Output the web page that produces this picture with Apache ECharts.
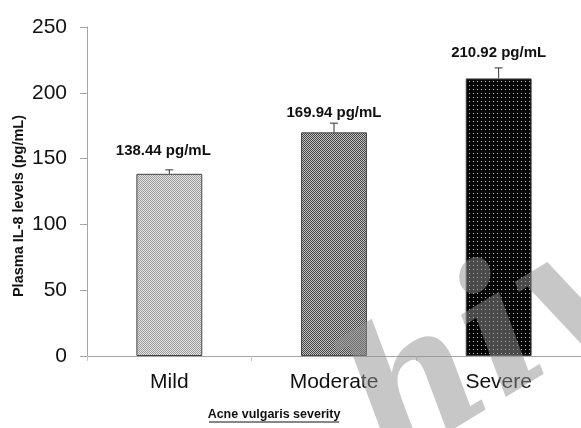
<!DOCTYPE html>
<html>
<head>
<meta charset="utf-8">
<script src="https://cdn.jsdelivr.net/npm/echarts@6/dist/echarts.min.js"></script>
<style>
    html, body { margin: 0; padding: 0; background: #fff; }
    #chart { width: 581px; height: 428px; }
</style>
</head>
<body>
<div id="chart"></div>
<script>
    // data
    const categories = ['Mild', 'Moderate', 'Severe'];
    const il8Means = [138.44, 169.94, 210.92];
    const il8Errors = [3, 7, 8];
    const yTicks = [0, 50, 100, 150, 200, 250];

    // small bitmap fills to mimic the hatch patterns of the original
    function makePattern(size, bg, fg, dots) {
        const c = document.createElement('canvas');
        c.width = size;
        c.height = size;
        const ctx = c.getContext('2d');
        ctx.fillStyle = bg;
        ctx.fillRect(0, 0, size, size);
        ctx.fillStyle = fg;
        dots.forEach(function (d) {
            ctx.fillRect(d[0], d[1], 1, 1);
        });
        return { image: c, repeat: 'repeat' };
    }

    const fills = [
        makePattern(2, '#e6e6e6', '#9a9a9a', [[0, 0], [1, 1]]),
        makePattern(2, '#bdbdbd', '#4a4a4a', [[0, 0], [1, 1]]),
        makePattern(4, '#050505', '#c8c8c8', [[1, 1]])
    ];
    // distance of each value label above its bar
    const labelGaps = [15, 12, 18];
    const labelShift = [-6, 0, 0];

    // watermark: only the tail of the word shows inside the picture
    const wmFont = 'italic bold 180px "DejaVu Serif", serif';
    const wmAngle = 0.55;
    const wmCtx = document.createElement('canvas').getContext('2d');
    wmCtx.font = wmFont;
    const wmSkip = wmCtx.measureText('Arc').width;

    const myChart = echarts.init(document.getElementById('chart'));
    myChart.setOption({
        animation: false,
        textStyle: { fontFamily: 'Liberation Sans, Arial, sans-serif' },
        grid: { left: 87, right: 0, top: 27, bottom: 72 },
        xAxis: {
            type: 'category',
            data: categories,
            axisLine: { lineStyle: { color: '#a6a6a6', width: 1 } },
            axisTick: { show: true, length: 5, lineStyle: { color: '#c8c8c8' } },
            axisLabel: { fontSize: 21, color: '#111', margin: 16 }
        },
        yAxis: {
            type: 'value',
            min: yTicks[0],
            max: yTicks[yTicks.length - 1],
            interval: yTicks[1] - yTicks[0],
            splitLine: { show: false },
            axisLine: { show: true, lineStyle: { color: '#a6a6a6', width: 1 } },
            axisTick: { show: true, length: 7, lineStyle: { color: '#a6a6a6' } },
            axisLabel: { fontSize: 21, color: '#111', margin: 20 }
        },
        series: [
            {
                type: 'bar',
                barWidth: '40%',
                data: il8Means.map(function (v, i) {
                    return {
                        value: v,
                        itemStyle: { color: fills[i], borderColor: '#444', borderWidth: 1 },
                        label: { distance: labelGaps[i], offset: [labelShift[i], 0] }
                    };
                }),
                label: {
                    show: true,
                    position: 'top',
                    fontSize: 15,
                    fontWeight: 'bold',
                    color: '#111',
                    formatter: function (p) { return p.value.toFixed(2) + ' pg/mL'; }
                },
                z: 2
            },
            {
                // upper error whiskers
                type: 'custom',
                data: il8Means.map(function (v, i) { return [i, v, v + il8Errors[i]]; }),
                renderItem: function (params, api) {
                    const lo = api.coord([api.value(0), api.value(1)]);
                    const hi = api.coord([api.value(0), api.value(2)]);
                    const half = 4;
                    const st = { stroke: '#333', lineWidth: 1 };
                    return {
                        type: 'group',
                        children: [
                            { type: 'line', shape: { x1: lo[0], y1: lo[1], x2: hi[0], y2: hi[1] }, style: st },
                            { type: 'line', shape: { x1: hi[0] - half, y1: hi[1], x2: hi[0] + half, y2: hi[1] }, style: st }
                        ]
                    };
                },
                z: 3
            }
        ],
        graphic: [
            {
                type: 'text',
                x: 19,
                y: 206,
                rotation: Math.PI / 2,
                style: {
                    text: 'Plasma IL-8 levels (pg/mL)',
                    font: 'bold 14.5px "Liberation Sans", Arial, sans-serif',
                    fill: '#111',
                    align: 'center',
                    verticalAlign: 'middle'
                }
            },
            {
                type: 'text',
                x: 274,
                y: 415,
                style: {
                    text: 'Acne vulgaris severity',
                    font: 'bold 12.5px "Liberation Sans", Arial, sans-serif',
                    fill: '#111',
                    align: 'center',
                    verticalAlign: 'middle'
                }
            },
            {
                type: 'line',
                shape: { x1: 209, y1: 422, x2: 339, y2: 422 },
                style: { stroke: '#111', lineWidth: 1 }
            },
            {
                // faint watermark lying over the plot
                type: 'text',
                x: 24 + wmSkip * Math.cos(wmAngle),
                y: 532 - wmSkip * Math.sin(wmAngle),
                rotation: wmAngle,
                z: 100,
                style: {
                    text: 'hive',
                    font: wmFont,
                    fill: 'rgba(143,143,143,0.5)',
                    align: 'left',
                    verticalAlign: 'alphabetic'
                }
            }
        ]
    });
</script>
</body>
</html>
